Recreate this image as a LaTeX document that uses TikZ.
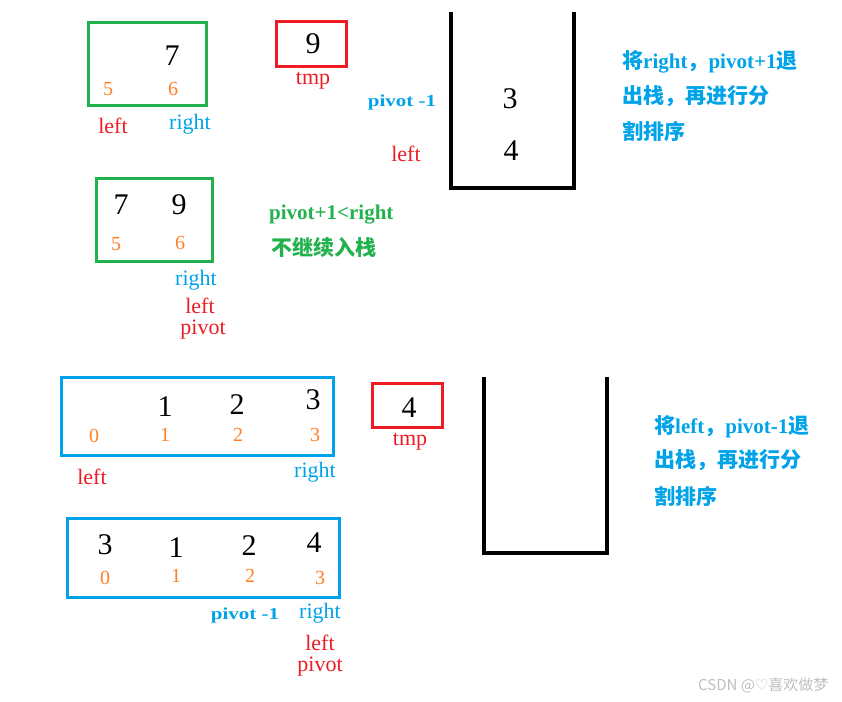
\documentclass[tikz,border=0pt]{standalone}
\usepackage{fontspec}
\setmainfont{Liberation Serif}
\newfontfamily\cjk{Noto Sans CJK SC}
\newfontfamily\symf{DejaVu Sans}
\definecolor{cgreen}{HTML}{22B14C}
\definecolor{cred}{HTML}{ED1C24}
\definecolor{cblue}{HTML}{00A2E8}
\definecolor{corange}{HTML}{FF7F27}
\tikzset{
  num/.style={inner sep=0pt, font=\fontsize{30}{30}\selectfont, text=black},
  idx/.style={inner sep=0pt, font=\fontsize{20}{20}\selectfont, text=corange},
  rlbl/.style={inner sep=0pt, font=\fontsize{22}{22}\selectfont, text=cred},
  blbl/.style={inner sep=0pt, font=\fontsize{22}{22}\selectfont, text=cblue},
  slbl/.style={inner sep=0pt, font=\fontsize{21}{21}\selectfont\bfseries, text=cblue, yscale=0.8, transform shape},
  note/.style={inner sep=0pt, anchor=west, font=\fontsize{21}{21}\selectfont\bfseries},
  gbox/.style={draw=cgreen, line width=3pt, inner sep=0pt},
  bbox/.style={draw=cblue, line width=3pt, inner sep=0pt},
  rbox/.style={draw=cred, line width=3pt, inner sep=0pt},
  stackline/.style={draw=black, line width=3.5pt}
}
\begin{document}
\begin{tikzpicture}[x=1pt,y=-1pt]
\useasboundingbox (0,0) rectangle (842,701);
% ---------- group 1 ----------
\node[gbox, minimum width=118, minimum height=82] (g1) at (147,64) {};
\node[num] (g1n7) at (172,56) {7};
\node[idx] (g1i5) at (108,89) {5};
\node[idx] (g1i6) at (173,89) {6};
\node[rlbl] (g1left) at (113,126) {left};
\node[blbl] (g1right) at (190,124) {right};
\node[rbox, minimum width=70, minimum height=44] (t1) at (311,44) {};
\node[num] (t1n) at (313,44) {9};
\node[rlbl] (t1l) at (313,81) {tmp};
\node[slbl] (s1p) at (402,102) {pivot -1};
\node[rlbl] (s1l) at (406,154) {left};
\draw[stackline] (451,12) -- (451,188) -- (574,188) -- (574,12);
\node[num] (s1a) at (510,99) {3};
\node[num] (s1b) at (511,151) {4};
\node[note, text=cblue] (n1a) at (622,62) {{\cjk 将}right{\cjk ，}pivot+1{\cjk 退}};
\node[note, text=cblue] (n1b) at (622,96) {\cjk 出栈，再进行分};
\node[note, text=cblue] (n1c) at (622,131) {\cjk 割排序};
% ---------- group 2 ----------
\node[gbox, minimum width=116, minimum height=83] (g2) at (154,220) {};
\node[num] (g2n7) at (121,205) {7};
\node[num] (g2n9) at (179,205) {9};
\node[idx] (g2i5) at (116,244) {5};
\node[idx] (g2i6) at (180,243) {6};
\node[blbl] (g2right) at (196,280) {right};
\node[rlbl] (g2left) at (200,306) {left};
\node[rlbl] (g2piv) at (203,330) {pivot};
\node[note, text=cgreen] (n2a) at (269,215) {pivot+1<right};
\node[note, text=cgreen] (n2b) at (271,247) {\cjk 不继续入栈};
% ---------- group 3 ----------
\node[bbox, minimum width=272, minimum height=78] (b3) at (197,416) {};
\node[num] (b3n1) at (165,407) {1};
\node[num] (b3n2) at (237,405) {2};
\node[num] (b3n3) at (313,400) {3};
\node[idx] (b3i0) at (94,436) {0};
\node[idx] (b3i1) at (165,435) {1};
\node[idx] (b3i2) at (238,435) {2};
\node[idx] (b3i3) at (315,435) {3};
\node[rlbl] (b3left) at (92,477) {left};
\node[blbl] (b3right) at (315,472) {right};
\node[rbox, minimum width=70, minimum height=44] (t2) at (407,405) {};
\node[num] (t2n) at (409,408) {4};
\node[rlbl] (t2l) at (410,442) {tmp};
\draw[stackline] (484,377) -- (484,553) -- (607,553) -- (607,377);
\node[note, text=cblue] (n3a) at (654,427) {{\cjk 将}left{\cjk ，}pivot-1{\cjk 退}};
\node[note, text=cblue] (n3b) at (654,460) {\cjk 出栈，再进行分};
\node[note, text=cblue] (n3c) at (654,496) {\cjk 割排序};
% ---------- group 4 ----------
\node[bbox, minimum width=272, minimum height=79] (b4) at (203,558) {};
\node[num] (b4n3) at (105,545) {3};
\node[num] (b4n1) at (176,548) {1};
\node[num] (b4n2) at (249,546) {2};
\node[num] (b4n4) at (314,543) {4};
\node[idx] (b4i0) at (105,578) {0};
\node[idx] (b4i1) at (176,576) {1};
\node[idx] (b4i2) at (250,576) {2};
\node[idx] (b4i3) at (320,578) {3};
\node[slbl] (b4p) at (245,615) {pivot -1};
\node[blbl] (b4right) at (320,613) {right};
\node[rlbl] (b4left) at (320,643) {left};
\node[rlbl] (b4piv) at (320,667) {pivot};
% watermark
\node[inner sep=0pt, anchor=west, text=black!25, font=\fontsize{15}{15}\selectfont\cjk] (wm) at (698,685) {CSDN @{\symf ♡}喜欢做梦};
\end{tikzpicture}
\end{document}
